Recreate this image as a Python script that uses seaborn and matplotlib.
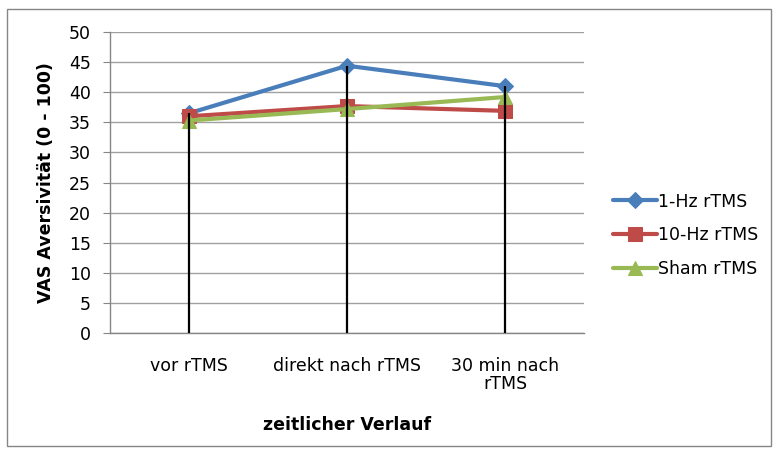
import matplotlib.pyplot as plt
import numpy as np
import pandas as pd
import seaborn as sns
from matplotlib.patches import Rectangle

# ── Data ────────────────────────────────────────────────────────────────────
zeitpunkte = ["vor rTMS", "direkt nach rTMS", "30 min nach\nrTMS"]
hz1 = [36.5, 44.4, 41.0]
hz10 = [36.0, 37.7, 36.9]
sham = [35.3, 37.2, 39.2]
serien = ["1-Hz rTMS", "10-Hz rTMS", "Sham rTMS"]

df = pd.DataFrame({
    "x": list(range(len(zeitpunkte))) * 3,
    "wert": hz1 + hz10 + sham,
    "serie": np.repeat(serien, len(zeitpunkte)),
})

sns.set_style("white")
plt.rcParams["font.family"] = ["DejaVu Sans"]
plt.rcParams["text.color"] = "black"
plt.rcParams["axes.labelcolor"] = "black"
plt.rcParams["xtick.labelcolor"] = "black"
plt.rcParams["ytick.labelcolor"] = "black"
FS = 12.5

farben = {"1-Hz rTMS": "#4A7EBB", "10-Hz rTMS": "#BE4B48", "Sham rTMS": "#98B954"}
marker = {"1-Hz rTMS": "D", "10-Hz rTMS": "s", "Sham rTMS": "^"}
msize = {"1-Hz rTMS": 8.5, "10-Hz rTMS": 9.5, "Sham rTMS": 10.5}

fig = plt.figure(figsize=(7.79, 4.54), dpi=100)
ax = fig.add_axes([0.141, 0.2665, 0.609, 0.663])

for s in serien:
    sub = df[df["serie"] == s]
    sns.lineplot(data=sub, x="x", y="wert", ax=ax, color=farben[s],
                 marker=marker[s], markersize=msize[s], markeredgecolor=farben[s],
                 linewidth=3, label=s, zorder=3)

# drop lines from 0 to the highest value per category
top = df.groupby("x")["wert"].max()
ax.vlines(top.index, 0, top.values, color="black", linewidth=1.6, zorder=4)

ax.set_xlim(-0.5, len(zeitpunkte) - 0.5)
ax.set_ylim(0, 50)
ax.set_yticks(np.arange(0, 51, 5))
ax.set_xticks(range(len(zeitpunkte)))
ax.set_xticklabels(zeitpunkte, fontsize=FS, linespacing=1.05)
ax.tick_params(axis="y", labelsize=FS, length=5, color="#868686", direction="out",
               left=True, pad=8.5)
ax.tick_params(axis="x", length=0, pad=17)
ax.grid(axis="y", color="#A0A0A0", linewidth=1)
ax.set_axisbelow(True)

for side in ["top", "right"]:
    ax.spines[side].set_visible(False)
for side in ["left", "bottom"]:
    ax.spines[side].set_color("#868686")
    ax.spines[side].set_linewidth(1)

ax.set_xlabel("zeitlicher Verlauf", fontsize=FS, fontweight="bold", labelpad=16)
ax.set_ylabel("VAS Aversivität (0 - 100)", fontsize=FS, fontweight="bold", labelpad=10)

handles, labels = ax.get_legend_handles_labels()
ax.get_legend().remove()
fig.legend(handles, labels, loc="center left", bbox_to_anchor=(0.767, 0.482),
           frameon=False, fontsize=FS, handlelength=2.5, handletextpad=0.1,
           labelspacing=0.9)

# outer chart frame
fig.patches.append(Rectangle((0.009, 0.018), 0.981, 0.963, transform=fig.transFigure,
                             fill=False, edgecolor="#868686", linewidth=1))

fig.savefig("out.png", dpi=100)
